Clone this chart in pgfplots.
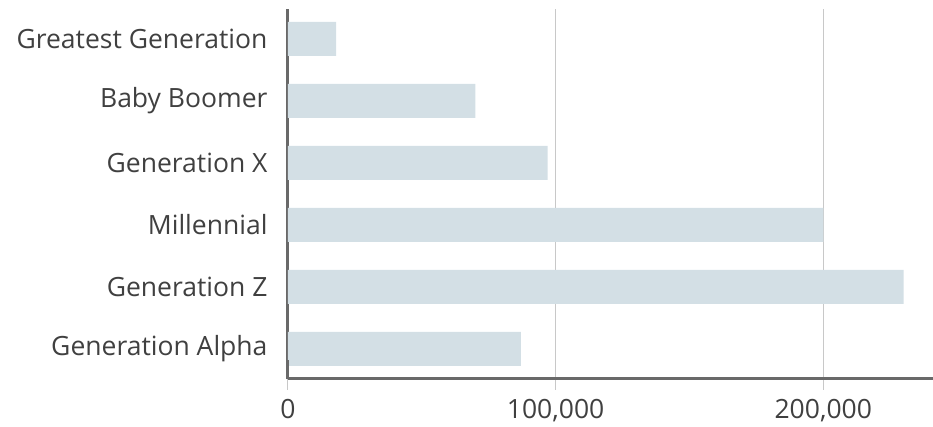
\documentclass[border=0pt]{standalone}
\usepackage{pgfplots}
\pgfplotsset{compat=1.18}
\usepackage{fontspec}
\setmainfont{Open Sans}
\definecolor{barc}{RGB}{211,223,229}
\definecolor{axc}{RGB}{105,105,105}
\definecolor{gridc}{RGB}{200,200,200}
\definecolor{txt}{RGB}{64,64,64}
\begin{document}
\begin{tikzpicture}[x=1pt,y=1pt]
\path[use as bounding box] (-288,-48) rectangle (645,379);
\begin{axis}[
  at={(0,0)}, anchor=south west,
  scale only axis, width=645pt, height=370pt,
  xbar, bar width=34pt,
  xmin=0, xmax=241000,
  ymin=-0.484, ymax=5.484,
  ytick={0,1,2,3,4,5},
  yticklabels={Generation Alpha,Generation Z,Millennial,Generation X,Baby Boomer,Greatest Generation},
  xtick={0,100000,200000},
  xticklabels={0,{100,000},{200,000}},
  axis x line*=bottom, axis y line*=left,
  axis line style={axc, line width=3pt, -},
  xmajorgrids, grid style={gridc, line width=1pt},
  major x tick style={gridc, line width=1pt},
  major tick length=11pt,
  xtick align=outside,
  y tick style={draw=none},
  ytick align=outside,
  ticklabel style={font=\fontsize{26.5}{30}\selectfont, text=txt},
  yticklabel style={xshift=-6pt},
  xticklabel style={inner sep=0pt, anchor=north, yshift=-9pt},
  clip=false,
]
\addplot[fill=barc, draw=none] coordinates {
  (87000,0) (230000,1) (200000,2) (97000,3) (70000,4) (18000,5)
};
\draw[axc, line width=3pt] (axis cs:0,-0.484) -- ++(0,-11pt);
\end{axis}
\end{tikzpicture}
\end{document}
